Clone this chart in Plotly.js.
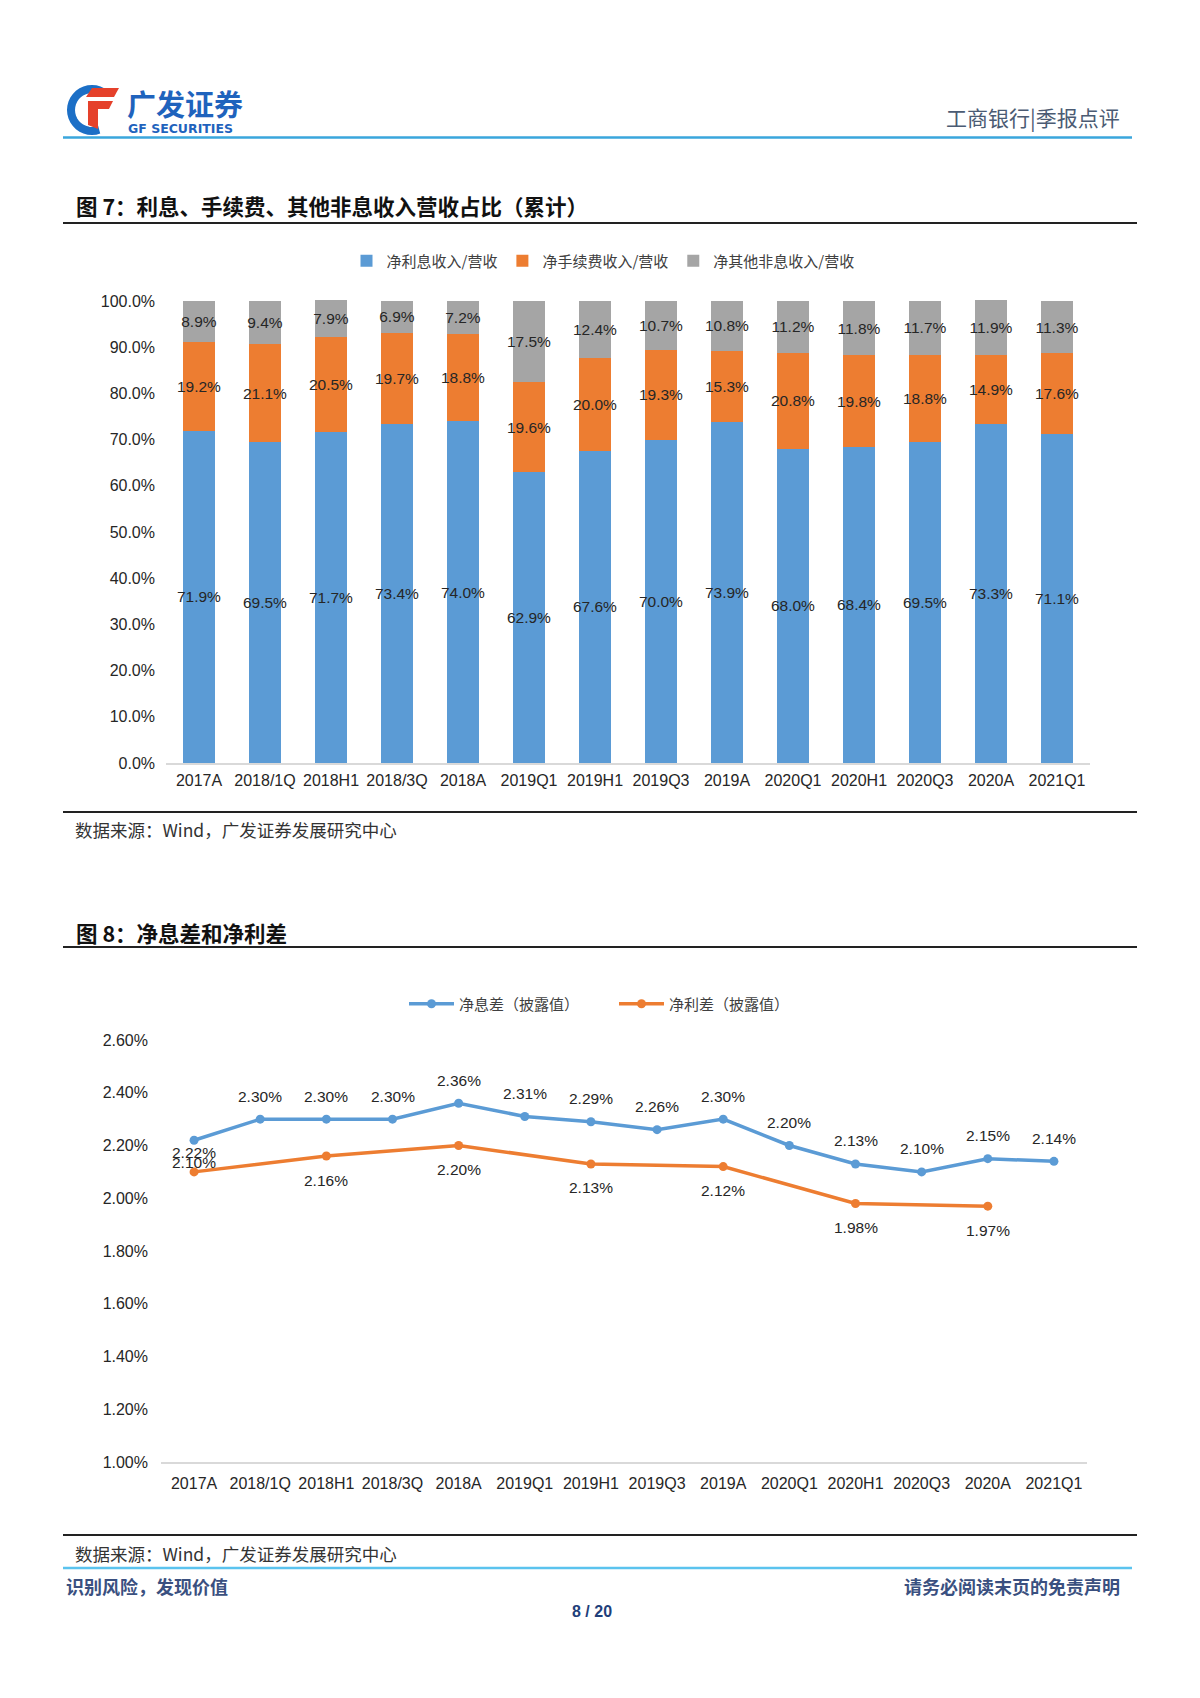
<!DOCTYPE html>
<html>
<head>
<meta charset="utf-8">
<script src="https://cdn.plot.ly/plotly-3.0.1.min.js"></script>
<style>
  html, body { margin: 0; padding: 0; background: #ffffff; }
  #page { width: 1200px; height: 1698px; }
</style>
</head>
<body>
<div id="page"></div>
<script>
// ---------------- DATA ----------------
const categories = ['2017A','2018/1Q','2018H1','2018/3Q','2018A','2019Q1','2019H1','2019Q3','2019A','2020Q1','2020H1','2020Q3','2020A','2021Q1'];

// Figure 7: share of operating revenue (%)
const netInterestShare = [71.9, 69.5, 71.7, 73.4, 74.0, 62.9, 67.6, 70.0, 73.9, 68.0, 68.4, 69.5, 73.3, 71.1];
const netFeeShare      = [19.2, 21.1, 20.5, 19.7, 18.8, 19.6, 20.0, 19.3, 15.3, 20.8, 19.8, 18.8, 14.9, 17.6];
const otherNonIntShare = [8.9, 9.4, 7.9, 6.9, 7.2, 17.5, 12.4, 10.7, 10.8, 11.2, 11.8, 11.7, 11.9, 11.3];

// Figure 8: NIM and net interest spread (%)
const nimDisclosed    = [2.22, 2.30, 2.30, 2.30, 2.36, 2.31, 2.29, 2.26, 2.30, 2.20, 2.13, 2.10, 2.15, 2.14];
const spreadDisclosed = [2.10, null, 2.16, null, 2.20, null, 2.13, null, 2.12, null, 1.98, null, 1.97, null];

const seriesNames7 = ['净利息收入/营收', '净手续费收入/营收', '净其他非息收入/营收'];
const seriesNames8 = ['净息差（披露值）', '净利差（披露值）'];

// ---------------- STYLE / LAYOUT ----------------
const W = 1200, H = 1698;
const X = p => p / W;
const Y = p => 1 - p / H;
const BLUE = '#5B9BD5', ORANGE = '#ED7D31', GRAY = '#A5A5A5';
const NUM_FONT = "'Liberation Sans Narrow', 'Liberation Sans', Arial, sans-serif";
const CJK = "'Noto Sans CJK SC', 'Noto Sans', sans-serif";

function barTrace(name, vals, color) {
  return {
    type: 'bar', name: name, x: categories, y: vals,
    marker: { color: color },
    texttemplate: '%{y:.1f}%',
    textposition: 'inside', insidetextanchor: 'middle', textangle: 0,
    constraintext: 'none', cliponaxis: false,
    insidetextfont: { family: NUM_FONT, size: 15.5, color: '#262626' },
    xaxis: 'x', yaxis: 'y', legend: 'legend', hoverinfo: 'skip'
  };
}

const traces = [
  barTrace(seriesNames7[0], netInterestShare, BLUE),
  barTrace(seriesNames7[1], netFeeShare, ORANGE),
  barTrace(seriesNames7[2], otherNonIntShare, GRAY),
  {
    type: 'scatter', mode: 'lines+markers', name: seriesNames8[0],
    x: categories, y: nimDisclosed,
    line: { color: BLUE, width: 3.5 }, marker: { color: BLUE, size: 9, symbol: 'circle' },
    xaxis: 'x2', yaxis: 'y2', legend: 'legend2', connectgaps: true, hoverinfo: 'skip'
  },
  {
    type: 'scatter', mode: 'lines+markers', name: seriesNames8[1],
    x: categories, y: spreadDisclosed,
    line: { color: ORANGE, width: 3.5 }, marker: { color: ORANGE, size: 9, symbol: 'circle' },
    xaxis: 'x2', yaxis: 'y2', legend: 'legend2', connectgaps: true, hoverinfo: 'skip'
  }
];

// ---- data labels for figure 8 (annotations anchored on the data) ----
const annotations = [];
nimDisclosed.forEach((v, i) => {
  if (v == null) return;
  annotations.push({
    xref: 'x2', yref: 'y2', x: categories[i], y: v, text: v.toFixed(2) + '%',
    showarrow: false, yanchor: 'middle', yshift: i === 0 ? -12 : 23,
    font: { family: NUM_FONT, size: 15.5, color: '#262626' }
  });
});
spreadDisclosed.forEach((v, i) => {
  if (v == null) return;
  annotations.push({
    xref: 'x2', yref: 'y2', x: categories[i], y: v, text: v.toFixed(2) + '%',
    showarrow: false, yanchor: 'middle', yshift: i === 0 ? 9 : -24,
    font: { family: NUM_FONT, size: 15.5, color: '#262626' }
  });
});

// ---- page texts ----
function pageText(text, x, y, opts) {
  annotations.push(Object.assign({
    xref: 'paper', yref: 'paper', x: X(x), y: Y(y), text: text, showarrow: false,
    xanchor: 'left', yanchor: 'middle', font: { family: CJK, size: 16, color: '#222' }
  }, opts || {}));
}
pageText('<b>广发证券</b>', 125, 103, { font: { family: CJK, size: 29, color: '#1f63bd' } });
pageText('<b>GF SECURITIES</b>', 126, 129, { font: { family: "'DejaVu Sans', sans-serif", size: 12.5, color: '#1f63bd' } });
pageText('工商银行|季报点评', 1122, 117, { xanchor: 'right', font: { family: CJK, size: 21, color: '#4b5b73' } });
pageText('<b>图 7：利息、手续费、其他非息收入营收占比（累计）</b>', 74, 206, { font: { family: CJK, size: 21.5, color: '#111' } });
pageText('数据来源：Wind，广发证券发展研究中心', 73, 829, { font: { family: CJK, size: 17.5, color: '#333' } });
pageText('<b>图 8：净息差和净利差</b>', 74, 932, { font: { family: CJK, size: 21.5, color: '#111' } });
pageText('数据来源：Wind，广发证券发展研究中心', 73, 1553, { font: { family: CJK, size: 17.5, color: '#333' } });
pageText('<b>识别风险，发现价值</b>', 64, 1586, { font: { family: CJK, size: 18, color: '#3a5080' } });
pageText('<b>请务必阅读末页的免责声明</b>', 1122, 1586, { xanchor: 'right', font: { family: CJK, size: 18, color: '#3a5080' } });
pageText('<b>8 / 20</b>', 592, 1611, { xanchor: 'center', font: { family: "'Liberation Sans', Arial, sans-serif", size: 16, color: '#1f3f7a' } });

// ---- shapes: rules and logo ----
function hline(y, x0, x1, color, width) {
  return { type: 'line', xref: 'paper', yref: 'paper', x0: X(x0), x1: X(x1), y0: Y(y), y1: Y(y),
           line: { color: color, width: width } };
}
function pathFrom(points, close) {
  return points.map((p, i) => (i ? 'L' : 'M') + X(p[0]).toFixed(5) + ',' + Y(p[1]).toFixed(5)).join(' ') + (close ? ' Z' : '');
}
const arcPts = [];
for (let a = -70; a >= -300; a -= 10) {
  const r = a * Math.PI / 180;
  arcPts.push([92 + 21 * Math.cos(r), 110 - 21 * Math.sin(r)]);
}
const shapes = [
  hline(137.5, 63, 1132, '#3aa6dc', 2.5),
  hline(223, 63, 1137, '#222', 2),
  hline(812, 63, 1137, '#222', 2),
  hline(947, 63, 1137, '#222', 2),
  hline(1535, 63, 1137, '#222', 2),
  hline(1568, 63, 1132, '#5bc3ee', 2.5),
  { type: 'path', xref: 'paper', yref: 'paper', path: pathFrom(arcPts, false),
    line: { color: '#1c6fc6', width: 8 } },
  { type: 'path', xref: 'paper', yref: 'paper',
    path: pathFrom([[86, 97], [92, 88], [119, 88], [114, 97]], true),
    fillcolor: '#e5412b', line: { width: 0 } },
  { type: 'path', xref: 'paper', yref: 'paper',
    path: pathFrom([[88, 101], [113, 101], [109, 109], [98, 109], [98, 129], [88, 125]], true),
    fillcolor: '#e5412b', line: { width: 0 } }
];

const tickFont = { family: NUM_FONT, size: 16, color: '#262626' };

const layout = {
  width: W, height: H,
  margin: { l: 0, r: 0, t: 0, b: 0 },
  paper_bgcolor: '#ffffff', plot_bgcolor: '#ffffff',
  barmode: 'stack', bargap: 0.53,
  uniformtext: { mode: 'show', minsize: 15.5 },
  showlegend: true,
  xaxis: {
    domain: [X(166), X(1090)], anchor: 'y', type: 'category',
    showline: true, linecolor: '#d9d9d9', linewidth: 1.5, showgrid: false, zeroline: false,
    ticks: '', tickfont: tickFont, ticklabelstandoff: 2, fixedrange: true
  },
  yaxis: {
    domain: [Y(763), Y(300)], anchor: 'x', range: [0, 100.2], tickmode: 'linear', tick0: 0, dtick: 10,
    tickformat: '.1f', ticksuffix: '%', showticksuffix: 'all', showgrid: false, zeroline: false, showline: false,
    ticks: '', ticklabelstandoff: 10, tickfont: tickFont, fixedrange: true
  },
  xaxis2: {
    domain: [X(161), X(1087)], anchor: 'y2', type: 'category', range: [-0.5, 13.5],
    showline: true, linecolor: '#d9d9d9', linewidth: 1.5, showgrid: false, zeroline: false,
    ticks: '', tickfont: tickFont, ticklabelstandoff: 6, fixedrange: true
  },
  yaxis2: {
    domain: [Y(1462), Y(1040)], anchor: 'x2', range: [1.0, 2.6], tick0: 1.0, dtick: 0.2,
    tickformat: '.2f', ticksuffix: '%', showgrid: false, zeroline: false, showline: false,
    ticks: '', ticklabelstandoff: 12, tickfont: tickFont, fixedrange: true
  },
  legend: {
    orientation: 'h', x: X(603), y: Y(261), xanchor: 'center', yanchor: 'middle',
    font: { family: CJK, size: 15, color: '#404040' }, bgcolor: 'rgba(0,0,0,0)',
    itemwidth: 30, itemclick: false, traceorder: 'normal'
  },
  legend2: {
    orientation: 'h', x: X(614), y: Y(1004), xanchor: 'center', yanchor: 'middle',
    font: { family: CJK, size: 15, color: '#404040' }, bgcolor: 'rgba(0,0,0,0)',
    itemwidth: 45, entrywidth: 150, itemclick: false, traceorder: 'normal'
  },
  annotations: annotations,
  shapes: shapes
};

Plotly.newPlot('page', traces, layout, { displayModeBar: false, staticPlot: true });
</script>
</body>
</html>
